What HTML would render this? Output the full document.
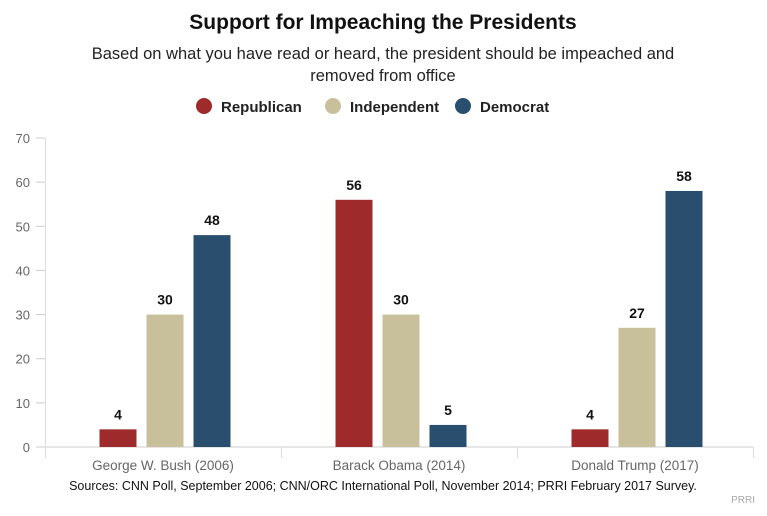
<!DOCTYPE html>
<html><head><meta charset="utf-8"><style>
body{margin:0;background:#fff;font-family:"Liberation Sans",sans-serif}
</style></head><body>
<svg id="chart" width="767" height="511" xmlns="http://www.w3.org/2000/svg" font-family="Liberation Sans, sans-serif">
<text x="383" y="29" text-anchor="middle" font-size="21" font-weight="bold" fill="#111">Support for Impeaching the Presidents</text>
<text x="383" y="59" text-anchor="middle" font-size="16.5" fill="#222">Based on what you have read or heard, the president should be impeached and</text>
<text x="383" y="81" text-anchor="middle" font-size="16.5" fill="#222">removed from office</text>
<g id="legend"></g>
<g id="grid"></g>
<g id="bars"></g>
<text x="383" y="490" text-anchor="middle" font-size="12.5" fill="#111">Sources: CNN Poll, September 2006; CNN/ORC International Poll, November 2014; PRRI February 2017 Survey.</text>
<text x="755" y="503" text-anchor="end" font-size="10" fill="#aaa">PRRI</text>
</svg>
<script>
const categories=["George W. Bush (2006)","Barack Obama (2014)","Donald Trump (2017)"];
const seriesNames=["Republican","Independent","Democrat"];
const republican=[4,56,4];
const independent=[30,30,27];
const democrat=[48,5,58];
const yTicks=[0,10,20,30,40,50,60,70];
const colors=["#9e2a2b","#c8c09a","#2a4e6e"];
const NS="http://www.w3.org/2000/svg";
const x0=45,x1=753,yBase=447,yTop=138,yMax=70;
const y=v=>yBase-(v/yMax)*(yBase-yTop);
const band=(x1-x0)/categories.length;
function mk(tag,attrs,parent){const e=document.createElementNS(NS,tag);for(const k in attrs)e.setAttribute(k,attrs[k]);parent.appendChild(e);return e;}
const grid=document.getElementById('grid'),bars=document.getElementById('bars'),legend=document.getElementById('legend');
yTicks.forEach(t=>{
  const l=mk('line',{x1:36,x2:45,y1:y(t),y2:y(t),stroke:'#ccc','stroke-width':1},grid);
  
  
  const tx=mk('text',{x:30,y:y(t)+5,'text-anchor':'end','font-size':13,fill:'#666'},grid);
  tx.textContent=t;
  
  
});
const ax=mk('line',{x1:36,x2:x1,y1:yBase,y2:yBase,stroke:'#ddd','stroke-width':1.5},grid);


const ay=mk('line',{x1:45.5,x2:45.5,y1:yTop,y2:yBase,stroke:'#ddd','stroke-width':1},grid);


for(let i=0;i<=categories.length;i++){
  const xx=x0+band*i+0.5;
  const s=mk('line',{x1:xx,x2:xx,y1:yBase,y2:yBase+11,stroke:'#ddd','stroke-width':1},grid);
  
  
}
const series=[republican,independent,democrat];
const bw=37,gap=10;
categories.forEach((c,i)=>{
  const cx=x0+band*i+band/2+2;
  series.forEach((s,j)=>{
    const bx=cx+(j-1)*(bw+gap)-bw/2;
    const r=mk('rect',{x:bx,y:y(s[i]),width:bw,height:yBase-y(s[i]),fill:colors[j]},bars);
    
    
    const t=mk('text',{x:bx+bw/2,y:y(s[i])-10,'text-anchor':'middle','font-size':14,'font-weight':'bold',fill:'#111'},bars);
    t.textContent=s[i];
    
    
  });
  const ct=mk('text',{x:x0+band*i+band/2,y:470,'text-anchor':'middle','font-size':13.5,fill:'#666'},bars);
  ct.textContent=c;
  
  
});
const legX=[204,333,463];
seriesNames.forEach((n,j)=>{
  const c=mk('circle',{cx:legX[j],cy:106,r:8,fill:colors[j]},legend);
  
  
  const t=mk('text',{x:legX[j]+17,y:112,'font-size':15,'font-weight':'bold',fill:'#222'},legend);
  t.textContent=n;
  
  
});
</script>
</body></html>
